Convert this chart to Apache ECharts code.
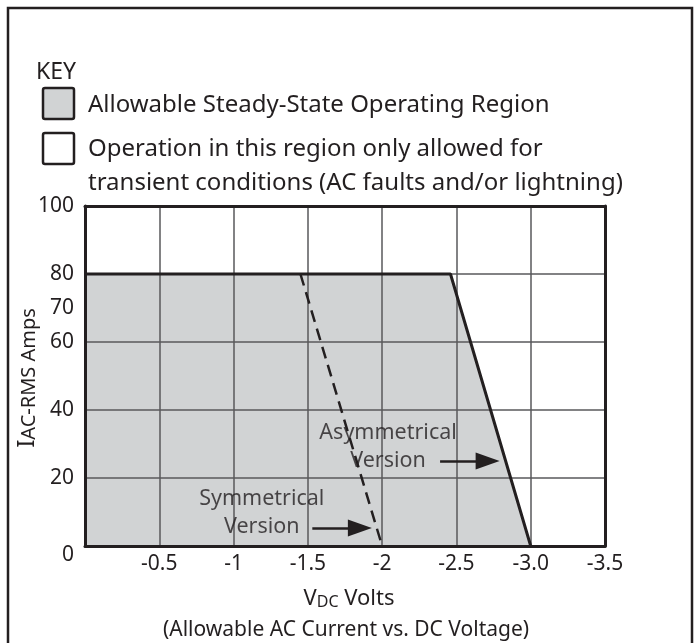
<!DOCTYPE html>
<html>
<head>
<meta charset="utf-8">
<script src="https://cdn.jsdelivr.net/npm/echarts@6/dist/echarts.min.js"></script>
<style>
html, body { margin: 0; padding: 0; background: #fff; }
#chart { width: 696px; height: 643px; }
</style>
</head>
<body>
<div id="chart"></div>
<script>
var ink = '#231f20';
var fill = '#d1d3d4';
var font = 'Noto Sans';

// x axis runs from 0 (left) to -3.5 (right)
var xTickValues = [-0.5, -1, -1.5, -2, -2.5, -3, -3.5];
var xTickLabels = ['-0.5', '-1', '-1.5', '-2', '-2.5', '-3.0', '-3.5'];
var yTickValues = [0, 20, 40, 60, 70, 80, 100];

// boundary of the steady-state region (asymmetrical version)
var asymEdge = [[0, 80], [-2.46, 80], [-3.0, 0]];
// symmetrical version limit (dashed)
var symEdge = [[-1.45, 80], [-2.0, 0]];

// annotation arrows and texts
var asymArrow = [[-2.39, 25], [-2.71, 25]];
var symArrow = [[-1.53, 5.3], [-1.85, 5.3]];
var notes = [
    { value: [-2.04, 29.1], text: 'Asymmetrical\nVersion' },
    { value: [-1.19, 9.6], text: 'Symmetrical\nVersion' }
];

var myChart = echarts.init(document.getElementById('chart'));

var xLabel = function (v) {
    for (var i = 0; i < xTickValues.length; i++) {
        if (Math.abs(xTickValues[i] - v) < 1e-6) return xTickLabels[i];
    }
    return '';
};

var frameLine = { show: true, onZero: false, lineStyle: { color: ink, width: 3 } };
var gridLine = { show: true, lineStyle: { color: '#58595b', width: 1.5 } };

option = {
    animation: false,
    textStyle: { fontFamily: font },
    grid: { left: 85, right: 91, top: 206, bottom: 97 },
    xAxis: [{
        type: 'value', min: -3.5, max: 0, interval: 0.5, inverse: true,
        position: 'bottom', z: 3,
        axisLine: frameLine,
        axisTick: { show: false },
        splitLine: gridLine,
        axisLabel: { formatter: xLabel, color: ink, fontSize: 21, margin: 8, fontFamily: font }
    }, {
        type: 'value', min: -3.5, max: 0, inverse: true,
        position: 'top', z: 3,
        axisLine: frameLine,
        axisTick: { show: false }, axisLabel: { show: false }, splitLine: { show: false }
    }],
    yAxis: [{
        type: 'value', min: 0, max: 100, interval: 20,
        position: 'left', z: 3,
        axisLine: frameLine,
        axisTick: { show: false },
        splitLine: gridLine,
        axisLabel: {
            color: ink, fontSize: 21, margin: 11, fontFamily: font,
            formatter: function (v) { return v === 0 ? '{z|0}' : String(v); },
            rich: { z: { fontSize: 21, fontFamily: font, color: ink, padding: [18, 0, 0, 0] } }
        }
    }, {
        type: 'value', min: 0, max: 100, position: 'right', z: 3,
        axisLine: frameLine,
        axisTick: { show: false }, axisLabel: { show: false }, splitLine: { show: false }
    }, {
        type: 'value', min: 0, max: 100, interval: 10, position: 'left', z: 3,
        axisLine: { show: false }, axisTick: { show: false }, splitLine: { show: false },
        axisLabel: {
            color: ink, fontSize: 21, margin: 11, fontFamily: font,
            formatter: function (v) {
                return (yTickValues.indexOf(v) >= 0 && v % 20 !== 0) ? String(v) : '';
            }
        }
    }],
    graphic: [
        { type: 'rect', shape: { x: 8, y: 8, width: 684, height: 660 },
          style: { fill: 'none', stroke: ink, lineWidth: 2.5 }, silent: true },
        { type: 'text', x: 36, y: 72, style: { text: 'KEY', font: '23px "Noto Sans"', fill: ink, textVerticalAlign: 'middle' } },
        { type: 'rect', shape: { x: 43, y: 88, width: 31, height: 31, r: 2 },
          style: { fill: fill, stroke: ink, lineWidth: 2.5 } },
        { type: 'text', x: 88, y: 105, style: { text: 'Allowable Steady-State Operating Region', font: '24px "Noto Sans"', fill: ink, textVerticalAlign: 'middle' } },
        { type: 'rect', shape: { x: 43, y: 133, width: 31, height: 31, r: 2 },
          style: { fill: '#fff', stroke: ink, lineWidth: 2.5 } },
        { type: 'text', x: 88, y: 149, style: { text: 'Operation in this region only allowed for', font: '24px "Noto Sans"', fill: ink, textVerticalAlign: 'middle' } },
        { type: 'text', x: 88, y: 183, style: { text: 'transient conditions (AC faults and/or lightning)', font: '24px "Noto Sans"', fill: ink, textVerticalAlign: 'middle' } },
        { type: 'text', x: 349, y: 598, style: {
            text: '{v|V}{s|DC}{v| Volts}', fill: ink, textAlign: 'center', textVerticalAlign: 'middle',
            rich: {
                v: { fontSize: 22, fontFamily: font, color: ink, lineHeight: 24, verticalAlign: 'bottom' },
                s: { fontSize: 16, fontFamily: font, color: ink, lineHeight: 11, verticalAlign: 'bottom' }
            } } },
        { type: 'text', x: 346, y: 630, style: { text: '(Allowable AC Current vs. DC Voltage)', font: '21px "Noto Sans"', fill: ink, textAlign: 'center', textVerticalAlign: 'middle' } },
        { type: 'text', x: 26, y: 378, rotation: Math.PI / 2, style: {
            text: '{i|I}{s|AC-RMS Amps}', fill: ink, textAlign: 'center', textVerticalAlign: 'middle',
            rich: {
                i: { fontSize: 24, fontFamily: font, color: ink, lineHeight: 26, verticalAlign: 'bottom' },
                s: { fontSize: 20, fontFamily: font, color: ink, lineHeight: 18, verticalAlign: 'bottom' }
            } } }
    ],
    series: [{
        name: 'region',
        type: 'line',
        data: asymEdge,
        symbol: 'none',
        z: 1,
        lineStyle: { width: 0 },
        areaStyle: { color: fill, opacity: 1 }
    }, {
        name: 'asymmetrical',
        type: 'line',
        data: asymEdge,
        symbol: 'none',
        z: 5,
        lineStyle: { color: ink, width: 3 }
    }, {
        name: 'symmetrical',
        type: 'line',
        data: symEdge,
        symbol: 'none',
        z: 5,
        lineStyle: { color: ink, width: 2.5, type: [12, 7] }
    }, {
        name: 'notes',
        type: 'scatter',
        data: notes,
        symbolSize: 0,
        z: 6,
        label: {
            show: true, position: 'inside',
            formatter: function (p) { return p.data.text; },
            color: ink, fontSize: 21.5, lineHeight: 28, fontFamily: font, align: 'center'
        },
        markLine: {
            silent: true,
            symbol: ['none', 'triangle'],
            symbolSize: [17, 24],
            label: { show: false },
            lineStyle: { color: ink, width: 2.5, type: 'solid' },
            data: [
                [{ coord: asymArrow[0] }, { coord: asymArrow[1] }],
                [{ coord: symArrow[0] }, { coord: symArrow[1] }]
            ]
        }
    }]
};
myChart.setOption(option);
</script>
</body>
</html>
